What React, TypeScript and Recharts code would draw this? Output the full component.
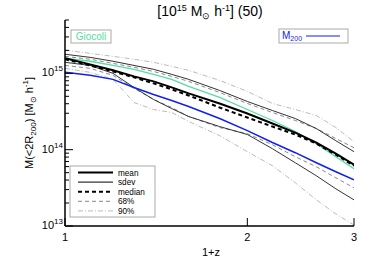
import { LineChart, Line, XAxis, YAxis } from "recharts";

// 1+z sample points
const X = [1.0, 1.1, 1.2, 1.3, 1.4, 1.5, 1.6, 1.8, 2.0, 2.2, 2.4, 2.6, 2.8, 3.0];

// masses in M_sun/h
const MEAN = [1.58e15, 1.31e15, 1.1e15, 9.13e14, 7.85e14, 6.54e14, 5.46e14, 4.03e14, 2.98e14, 2.2e14, 1.67e14, 1.24e14, 8.86e13, 6.35e13];
const MEDIAN = [1.53e15, 1.27e15, 1.06e15, 8.86e14, 7.39e14, 6.16e14, 5.13e14, 3.57e14, 2.64e14, 2.01e14, 1.58e14, 1.2e14, 8.59e13, 6.16e13];
const SDEV_HI = [1.78e15, 1.62e15, 1.44e15, 1.27e15, 1.13e15, 9.7e14, 8.34e14, 5.97e14, 4.28e14, 3.26e14, 2.56e14, 1.89e14, 1.31e14, 9.41e13];
const SDEV_LO = [1.395e15, 1.27e15, 1.0e15, 6.54e14, 4.55e14, 3.46e14, 2.72e14, 2.01e14, 1.58e14, 1.03e14, 6.74e13, 4.55e13, 3.07e13, 2.2e13];
const P68_HI = [1.67e15, 1.53e15, 1.35e15, 1.2e15, 1.06e15, 9.13e14, 7.85e14, 5.62e14, 4.03e14, 3.07e14, 2.41e14, 1.89e14, 1.4e14, 1.06e14];
const P68_LO = [1.27e15, 1.163e15, 9.41e14, 6.35e14, 4.55e14, 3.57e14, 2.72e14, 1.95e14, 1.62e14, 1.16e14, 8.09e13, 5.97e13, 4.28e13, 3.16e13];
const P90_HI = [2.01e15, 1.83e15, 1.67e15, 1.53e15, 1.395e15, 1.236e15, 1.095e15, 8.09e14, 5.8e14, 4.03e14, 3.36e14, 2.8e14, 1.95e14, 1.27e14];
const P90_LO = [1.163e15, 1.03e15, 8.34e14, 4.15e14, 3.36e14, 3.07e14, 2.34e14, 1.53e14, 9.41e13, 6.16e13, 3.68e13, 2.2e13, 1.44e13, 1.03e13];
const GIOCOLI = [1.58e15, 1.44e15, 1.27e15, 1.13e15, 9.7e14, 8.34e14, 6.74e14, 4.83e14, 3.36e14, 2.41e14, 1.73e14, 1.2e14, 8.09e13, 5.62e13];
const M200 = [1.03e15, 9.41e14, 8.34e14, 6.54e14, 5.29e14, 4.41e14, 3.68e14, 2.56e14, 1.78e14, 1.24e14, 9.13e13, 6.74e13, 5.13e13, 4.03e13];

const X_TICKS = [1, 2, 3];
const Y_MAJOR = [1e13, 1e14, 1e15];
const Y_TICKS = [
  1e13, 2e13, 3e13, 4e13, 5e13, 6e13, 7e13, 8e13, 9e13,
  1e14, 2e14, 3e14, 4e14, 5e14, 6e14, 7e14, 8e14, 9e14,
  1e15, 2e15, 3e15, 4e15, 5e15,
];

const data = X.map((x, i) => ({
  x,
  mean: MEAN[i],
  median: MEDIAN[i],
  sdevHi: SDEV_HI[i],
  sdevLo: SDEV_LO[i],
  p68Hi: P68_HI[i],
  p68Lo: P68_LO[i],
  p90Hi: P90_HI[i],
  p90Lo: P90_LO[i],
  giocoli: GIOCOLI[i],
  m200: M200[i],
}));

const FONT = "Liberation Sans, Arial, sans-serif";
const GREEN = "#55dd9e";
const BLUE = "#1020f0";

const isMajor = (v: number) => Y_MAJOR.includes(v);

const LeftTick = ({ x, y, payload }: any) => {
  const v = payload.value;
  const e = Math.round(Math.log10(v));
  return (
    <g>
      <line x1={x} x2={x + (isMajor(v) ? 8 : 4)} y1={y} y2={y} stroke="#000" />
      {isMajor(v) && (
        <text x={x - 2} y={y + 3} textAnchor="end" fontSize={11} fontFamily={FONT} fill="#000">
          10<tspan dy={-5} fontSize={8}>{e}</tspan>
        </text>
      )}
    </g>
  );
};

const RightTick = ({ x, y, payload }: any) => (
  <line x1={x} x2={x - (isMajor(payload.value) ? 8 : 4)} y1={y} y2={y} stroke="#000" />
);

const BottomTick = ({ x, y, payload }: any) => (
  <g>
    <line x1={x} x2={x} y1={y} y2={y - 8} stroke="#000" />
    <text x={x} y={y + 15} textAnchor="middle" fontSize={11} fontFamily={FONT} fill="#000">
      {payload.value}
    </text>
  </g>
);

const TopTick = ({ x, y }: any) => <line x1={x} x2={x} y1={y} y2={y + 8} stroke="#000" />;

const legendRows = [
  { label: "mean", stroke: "#000", width: 2, dash: undefined },
  { label: "sdev", stroke: "#000", width: 1, dash: undefined },
  { label: "median", stroke: "#000", width: 2, dash: "4 3" },
  { label: "68%", stroke: "#888", width: 1, dash: "4 3" },
  { label: "90%", stroke: "#bbb", width: 1, dash: "5 2 1 2" },
];
const ROW_GAP = 9.6;

export default function App() {
  return (
    <div style={{ position: "absolute", left: 0, top: 0, width: 374, height: 267, background: "#fff" }}>
      <LineChart width={374} height={267} data={data} margin={{ top: 20, right: 20, left: 0, bottom: 0 }}>
        <XAxis
          dataKey="x"
          type="number"
          scale="log"
          domain={[1, 3]}
          ticks={X_TICKS}
          allowDataOverflow
          height={41}
          axisLine={{ stroke: "#000", strokeWidth: 1.5 }}
          tickLine={false}
          tickSize={0}
          tickMargin={0}
          tick={<BottomTick />}
          interval={0}
        />
        <XAxis
          xAxisId="top"
          dataKey="x"
          type="number"
          scale="log"
          domain={[1, 3]}
          ticks={X_TICKS}
          allowDataOverflow
          orientation="top"
          height={0}
          axisLine={{ stroke: "#000", strokeWidth: 1.5 }}
          tickLine={false}
          tickSize={0}
          tickMargin={0}
          tick={<TopTick />}
          interval={0}
        />
        <YAxis
          type="number"
          scale="log"
          domain={[1e13, 5e15]}
          ticks={Y_TICKS}
          allowDataOverflow
          width={65}
          axisLine={{ stroke: "#000", strokeWidth: 1.5 }}
          tickLine={false}
          tickSize={0}
          tickMargin={0}
          tick={<LeftTick />}
          interval={0}
        />
        <YAxis
          yAxisId="right"
          orientation="right"
          type="number"
          scale="log"
          domain={[1e13, 5e15]}
          ticks={Y_TICKS}
          allowDataOverflow
          width={0}
          axisLine={{ stroke: "#000", strokeWidth: 1.5 }}
          tickLine={false}
          tickSize={0}
          tickMargin={0}
          tick={<RightTick />}
          interval={0}
        />
        <Line xAxisId="top" yAxisId="right" dataKey="mean" stroke="none" dot={false} isAnimationActive={false} />
        <Line dataKey="p90Hi" stroke="#bbb" strokeWidth={1} strokeDasharray="5 2 1 2" dot={false} isAnimationActive={false} />
        <Line dataKey="p90Lo" stroke="#bbb" strokeWidth={1} strokeDasharray="5 2 1 2" dot={false} isAnimationActive={false} />
        <Line dataKey="p68Hi" stroke="#888" strokeWidth={1} strokeDasharray="4 3" dot={false} isAnimationActive={false} />
        <Line dataKey="p68Lo" stroke="#888" strokeWidth={1} strokeDasharray="4 3" dot={false} isAnimationActive={false} />
        <Line dataKey="sdevHi" stroke="#333" strokeWidth={1} dot={false} isAnimationActive={false} />
        <Line dataKey="sdevLo" stroke="#333" strokeWidth={1} dot={false} isAnimationActive={false} />
        <Line dataKey="m200" stroke={BLUE} strokeWidth={1.5} dot={false} isAnimationActive={false} />
        <Line dataKey="giocoli" stroke={GREEN} strokeWidth={1.3} dot={false} isAnimationActive={false} />
        <Line dataKey="median" stroke="#000" strokeWidth={2} strokeDasharray="4 3" dot={false} isAnimationActive={false} />
        <Line dataKey="mean" stroke="#000" strokeWidth={2} dot={false} isAnimationActive={false} />
      </LineChart>

      <svg
        width={374}
        height={267}
        style={{ position: "absolute", left: 0, top: 0, pointerEvents: "none" }}
        fontFamily={FONT}
      >
        {/* title */}
        <text x={210} y={16} textAnchor="middle" fontSize={14} fill="#000">
          [10<tspan dy={-5} fontSize={9}>15</tspan>
          <tspan dy={5}> M</tspan>
          <tspan dy={3} fontSize={9}>⊙</tspan>
          <tspan dy={-3}> h</tspan>
          <tspan dy={-5} fontSize={9}>-1</tspan>
          <tspan dy={5}>] (50)</tspan>
        </text>

        {/* axis labels */}
        <text x={211} y={256} textAnchor="middle" fontSize={11} fill="#000">
          1+z
        </text>
        <text transform="translate(33,123) rotate(-90)" textAnchor="middle" fontSize={11} fill="#000">
          M(&lt;2R<tspan dy={3} fontSize={8}>200</tspan>
          <tspan dy={-3}>) [M</tspan>
          <tspan dy={3} fontSize={8}>⊙</tspan>
          <tspan dy={-3}> h</tspan>
          <tspan dy={-5} fontSize={8}>-1</tspan>
          <tspan dy={5}>]</tspan>
        </text>

        {/* Giocoli box */}
        <rect x={71} y={30} width={40} height={13} fill="#fff" stroke="#aaa" />
        <text x={91} y={40} textAnchor="middle" fontSize={10} fill={GREEN}>
          Giocoli
        </text>

        {/* M200 box */}
        <rect x={279} y={29} width={69} height={14} fill="#fff" stroke="#aaa" />
        <text x={282} y={39} fontSize={10} fill={BLUE}>
          M<tspan dy={2} fontSize={7}>200</tspan>
        </text>
        <line x1={306} x2={340} y1={36} y2={36} stroke={BLUE} strokeWidth={1.2} />

        {/* line-style legend */}
        <rect x={70} y={166} width={85} height={51} fill="#fff" stroke="#aaa" />
        {legendRows.map((r, i) => (
          <g key={r.label}>
            <line
              x1={78}
              x2={113}
              y1={172.5 + i * ROW_GAP}
              y2={172.5 + i * ROW_GAP}
              stroke={r.stroke}
              strokeWidth={r.width}
              strokeDasharray={r.dash}
            />
            <text x={118} y={175.5 + i * ROW_GAP} fontSize={8.2} fill="#000">
              {r.label}
            </text>
          </g>
        ))}
      </svg>
    </div>
  );
}
